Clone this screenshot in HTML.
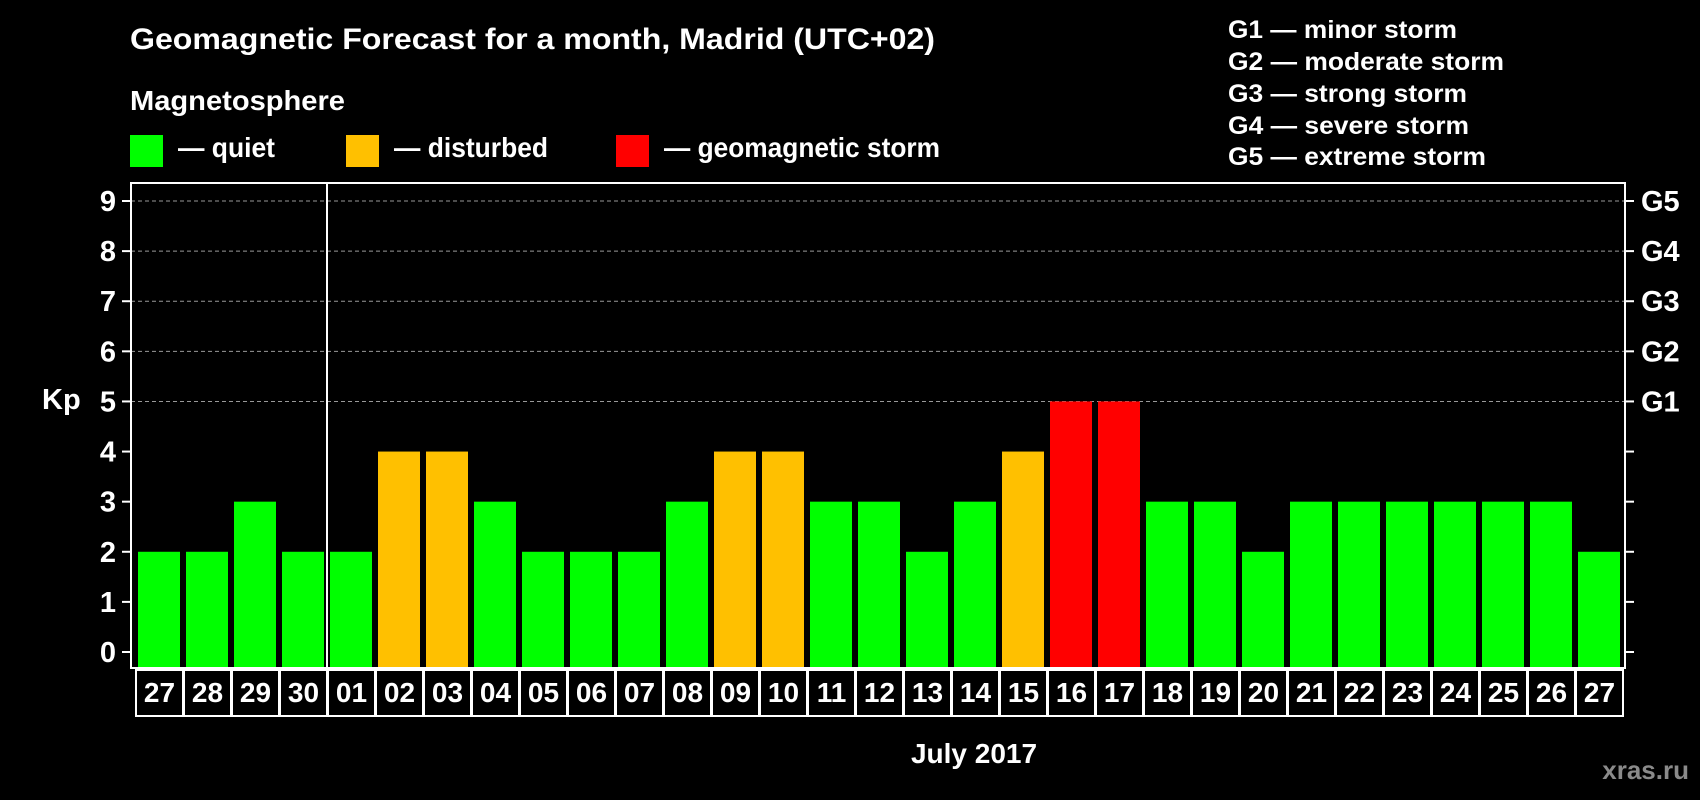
<!DOCTYPE html>
<html><head><meta charset="utf-8"><style>
html,body{margin:0;padding:0;background:#000;}
svg{display:block;font-family:"Liberation Sans",sans-serif;font-weight:bold;}
</style></head><body>
<svg id="chart" width="1700" height="800" viewBox="0 0 1700 800" xmlns="http://www.w3.org/2000/svg">
<rect width="1700" height="800" fill="#000"/>
<text x="130" y="49" fill="#fff" font-size="30" textLength="805" lengthAdjust="spacingAndGlyphs">Geomagnetic Forecast for a month, Madrid (UTC+02)</text>
<text x="130" y="110" fill="#fff" font-size="28" textLength="215" lengthAdjust="spacingAndGlyphs">Magnetosphere</text>
<rect x="130" y="135" width="33" height="32" fill="#00ff00"/>
<text x="178" y="157" fill="#fff" font-size="28" textLength="97" lengthAdjust="spacingAndGlyphs">— quiet</text>
<rect x="346" y="135" width="33" height="32" fill="#ffc000"/>
<text x="394" y="157" fill="#fff" font-size="28" textLength="154" lengthAdjust="spacingAndGlyphs">— disturbed</text>
<rect x="616" y="135" width="33" height="32" fill="#ff0000"/>
<text x="664" y="157" fill="#fff" font-size="28" textLength="276" lengthAdjust="spacingAndGlyphs">— geomagnetic storm</text>
<g fill="#fff" font-size="25">
<text x="1228" y="38" textLength="229" lengthAdjust="spacingAndGlyphs">G1 — minor storm</text>
<text x="1228" y="70" textLength="276" lengthAdjust="spacingAndGlyphs">G2 — moderate storm</text>
<text x="1228" y="102" textLength="239" lengthAdjust="spacingAndGlyphs">G3 — strong storm</text>
<text x="1228" y="134" textLength="241" lengthAdjust="spacingAndGlyphs">G4 — severe storm</text>
<text x="1228" y="165" textLength="258" lengthAdjust="spacingAndGlyphs">G5 — extreme storm</text>
</g>
<g id="grid"></g>
<g id="bars"></g>
<g id="axes"></g>
<text x="42" y="409" fill="#fff" font-size="29">Kp</text>
<text x="974" y="763" fill="#fff" font-size="28" text-anchor="middle">July 2017</text>
<text x="1689" y="779" fill="#8a8a8a" font-size="26" text-anchor="end">xras.ru</text>
</svg>
<script>
const days = ["27","28","29","30","01","02","03","04","05","06","07","08","09","10","11","12","13","14","15","16","17","18","19","20","21","22","23","24","25","26","27"];
const kpValues = [2,2,3,2,2,4,4,3,2,2,2,3,4,4,3,3,2,3,4,5,5,3,3,2,3,3,3,3,3,3,2];
const yTicks = [0,1,2,3,4,5,6,7,8,9];
const gLabels = ["G1","G2","G3","G4","G5"];
const gLevels = [5,6,7,8,9];

const NS = "http://www.w3.org/2000/svg";
const L = 131, R = 1625, T = 183, B = 668;
const cellX0 = 135, cellW = 48;
function yScale(v){ return 652 - v * (451/9); }
function xScale(i){ return cellX0 + i * cellW; }
function mk(tag, attrs, parent){ const e = document.createElementNS(NS, tag); for (const k in attrs) e.setAttribute(k, attrs[k]); parent.appendChild(e); return e; }
function colorFor(v){ return v >= 5 ? "#ff0000" : (v >= 4 ? "#ffc000" : "#00ff00"); }

const grid = document.getElementById("grid");
const bars = document.getElementById("bars");
const axes = document.getElementById("axes");

yTicks.forEach(v => {
  const y = yScale(v);
  if (v >= 5) {
    const g = mk("line", {x1:L, x2:R, y1:y, y2:y, stroke:"#999", "stroke-width":1, "stroke-dasharray":"4,3"}, grid);
    
    
  }
  const t1 = mk("line", {x1:L-9, x2:L, y1:y, y2:y, stroke:"#fff", "stroke-width":2}, axes);
  
  
  const t2 = mk("line", {x1:R, x2:R+9, y1:y, y2:y, stroke:"#fff", "stroke-width":2}, axes);
  
  
  const lb = mk("text", {x:116, y:y+10, fill:"#fff", "font-size":29, "text-anchor":"end"}, axes);
  lb.textContent = v;
  
  
});

gLabels.forEach((g, i) => {
  const t = mk("text", {x:1641, y:yScale(gLevels[i])+10, fill:"#fff", "font-size":29}, axes);
  t.textContent = g;
  
  
});

kpValues.forEach((v, i) => {
  const x = xScale(i) + 3;
  const y = yScale(v);
  const r = mk("rect", {x:x, y:y, width:42, height:B - y, fill:colorFor(v)}, bars);
  
  
});

const frame = mk("rect", {x:L, y:T, width:R-L, height:B-T, fill:"none", stroke:"#fff", "stroke-width":2}, axes);


const sep = mk("line", {x1:327, x2:327, y1:T, y2:B, stroke:"#fff", "stroke-width":2}, axes);



days.forEach((d, i) => {
  const x = xScale(i);
  const c = mk("rect", {x:x+1, y:670, width:cellW-1, height:46, fill:"#000", stroke:"#fff", "stroke-width":2}, axes);
  
  
  const t = mk("text", {x:x + cellW/2 + 0.5, y:702, fill:"#fff", "font-size":28, "text-anchor":"middle"}, axes);
  t.textContent = d;
  
  
});
</script>
</body></html>
